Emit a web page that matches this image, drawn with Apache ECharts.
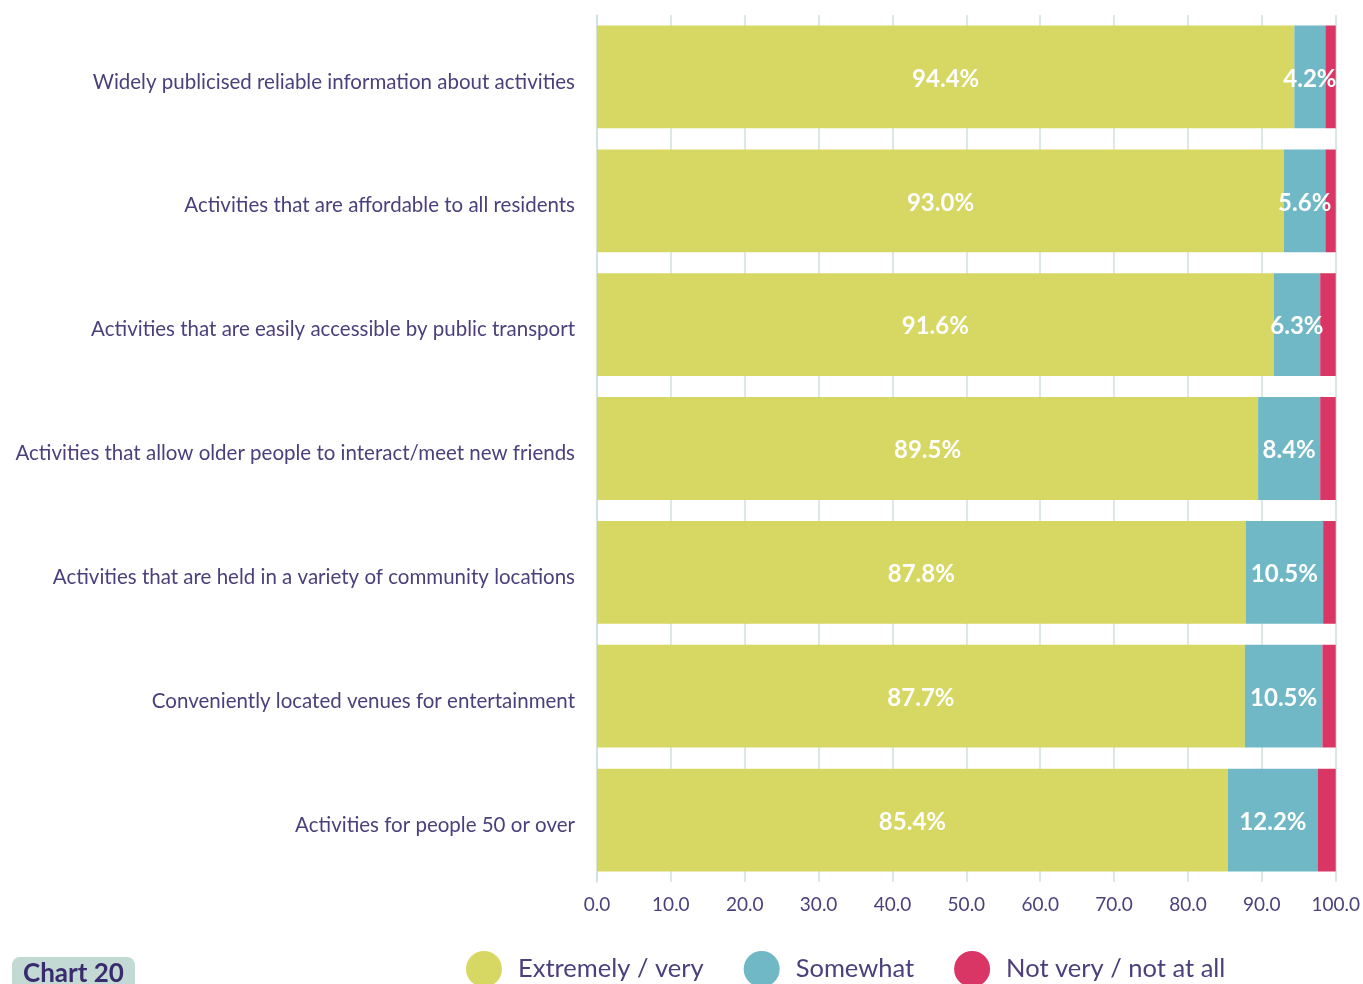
<!DOCTYPE html>
<html>
<head>
<meta charset="utf-8">
<script src="https://cdn.jsdelivr.net/npm/echarts@6/dist/echarts.min.js"></script>
<style>html,body{margin:0;padding:0;background:#fff;}#c{width:1363px;height:984px;}</style>
</head>
<body>
<div id="c"></div>
<script>
const categories = [
  "Widely publicised reliable information about activities",
  "Activities that are affordable to all residents",
  "Activities that are easily accessible by public transport",
  "Activities that allow older people to interact/meet new friends",
  "Activities that are held in a variety of community locations",
  "Conveniently located venues for entertainment",
  "Activities for people 50 or over"
];
const extremelyVery = [94.4, 93.0, 91.6, 89.5, 87.8, 87.7, 85.4];
const somewhat = [4.2, 5.6, 6.3, 8.4, 10.5, 10.5, 12.2];
const notVery = [1.4, 1.4, 2.1, 2.1, 1.7, 1.8, 2.4];
const seriesNames = ["Extremely / very", "Somewhat", "Not very / not at all"];

const FONT = "Lato, 'Open Sans', sans-serif";
const TXT = "#4b3f7c";
const chart = echarts.init(document.getElementById('c'));
const lbl = {
  show: true, position: 'inside', color: '#fff', fontWeight: 'bold',
  fontSize: 24, fontFamily: FONT, offset: [0, 2],
  formatter: p => p.value.toFixed(1) + '%'
};
chart.setOption({
  animation: false,
  grid: { left: 597, right: 22, top: 15, bottom: 102 },
  xAxis: {
    type: 'value', min: 0, max: 100, interval: 10,
    axisLine: { show: false },
    axisTick: { show: false },
    splitLine: { show: true, lineStyle: { color: '#cfe0df', width: 1.5 } },
    axisLabel: { color: TXT, fontSize: 19, fontFamily: FONT, margin: 13,
      formatter: v => v.toFixed(1) }
  },
  yAxis: {
    type: 'category', data: categories, inverse: true,
    axisLine: { show: true, lineStyle: { color: '#cfe0df', width: 1.5 } },
    axisTick: { show: false },
    axisLabel: { color: TXT, fontSize: 20.5, fontFamily: FONT, margin: 22,
      formatter: v => '{a|' + v + '}',
      rich: { a: { color: TXT, fontSize: 20.5, fontFamily: FONT, padding: [10, 0, 0, 0] } } }
  },
  legend: {
    left: 461, top: 946, icon: 'circle', itemWidth: 36, itemHeight: 36,
    itemGap: 40,
    textStyle: { color: TXT, fontSize: 25.5, fontFamily: FONT, padding: [0, 0, 0, 11] },
    data: seriesNames
  },
  graphic: [{
    type: 'group', left: 12, top: 957,
    children: [
      { type: 'rect', shape: { x: 0, y: 0, width: 123, height: 40, r: 8 },
        style: { fill: '#c2dad3' } },
      { type: 'text', x: 11, y: 17,
        style: { text: 'Chart 20', fill: '#3a2a6e', font: 'bold 26px ' + FONT, textVerticalAlign: 'middle' } }
    ]
  }],
  series: [
    { name: seriesNames[0], type: 'bar', stack: 't', barWidth: '83%', data: extremelyVery,
      itemStyle: { color: '#d7d764' }, label: lbl },
    { name: seriesNames[1], type: 'bar', stack: 't', data: somewhat,
      itemStyle: { color: '#70b8c6' }, label: lbl },
    { name: seriesNames[2], type: 'bar', stack: 't', data: notVery,
      itemStyle: { color: '#d93665' }, label: { show: false } }
  ]
});
</script>
</body>
</html>
